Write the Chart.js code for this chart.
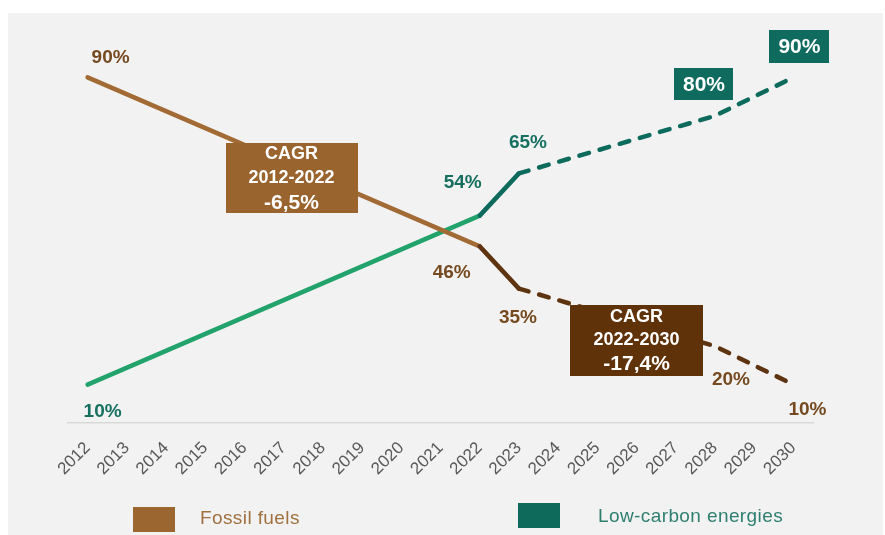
<!DOCTYPE html>
<html>
<head>
<meta charset="utf-8">
<script src="https://cdn.jsdelivr.net/npm/chart.js@4.4.1/dist/chart.umd.min.js"></script>
<style>
  html, body { margin: 0; padding: 0; background: #ffffff; }
  #wrap { position: relative; width: 885px; height: 535px; overflow: hidden; }
  #bg { position: absolute; left: 8px; top: 13px; width: 875px; height: 522px; background: #f2f2f2; }
  #c { position: absolute; left: 0; top: 0; }
  .lg-box { position: absolute; width: 42px; height: 25px; }
  .lg-text { position: absolute; font-family: "Liberation Sans", Arial, sans-serif; font-size: 19px; letter-spacing: 0.4px; line-height: 22px; white-space: nowrap; }
</style>
</head>
<body>
<div id="wrap">
  <div id="bg"></div>
  <canvas id="c" width="885" height="535"></canvas>
  <div class="lg-box" style="left:133px;top:507px;background:#9c6630"></div>
  <div class="lg-text" style="left:200px;top:507px;color:#a0703f">Fossil fuels</div>
  <div class="lg-box" style="left:518px;top:503px;background:#0e6b5c"></div>
  <div class="lg-text" style="left:598px;top:505px;color:#2e7f70">Low-carbon energies</div>
</div>
<script>
// ---- data ----
const years = ['2012','2013','2014','2015','2016','2017','2018','2019','2020','2021',
               '2022','2023','2024','2025','2026','2027','2028','2029','2030'];
const fossilFuels = [90, null, null, null, null, null, null, null, null, null,
                     46, 35, null, null, null, null, 20, null, 10];
const lowCarbon   = [10, null, null, null, null, null, null, null, null, null,
                     54, 65, null, null, null, null, 80, null, 90];
const seriesNames = ['Fossil fuels', 'Low-carbon energies'];
const cagrFossilHistoric = ['CAGR', '2012-2022', '-6,5%'];
const cagrFossilForecast = ['CAGR', '2022-2030', '-17,4%'];

// ---- styles ----
const C = {
  fossilLight: '#a26b35', fossilDark: '#5e3410',
  lowGreen: '#22a36c', lowTeal: '#0d6b5d',
  fossilText: '#754a20', lowText: '#15705f',
  box1: '#9a642e', box2: '#603209', tealBox: '#0f6b5e'
};
const LASTACTUAL = 10; // index of 2022
const FIRSTFORECAST = 11; // index of 2023

const fmt = v => v + '%';

// label placements (offsets from the data point, in px)
const pointLabels = [
  { ds: 0, i: 0,  dx: 23,  dy: -21, color: C.fossilText },
  { ds: 1, i: 0,  dx: 15,  dy: 26,  color: C.lowText },
  { ds: 1, i: 10, dx: -17, dy: -34, color: C.lowText },
  { ds: 0, i: 10, dx: -28, dy: 25,  color: C.fossilText },
  { ds: 1, i: 11, dx: 9,   dy: -32, color: C.lowText },
  { ds: 0, i: 11, dx: -1,  dy: 28,  color: C.fossilText },
  { ds: 0, i: 16, dx: 16,  dy: 33,  color: C.fossilText },
  { ds: 0, i: 18, dx: 14,  dy: 24,  color: C.fossilText },
  { ds: 1, i: 16, dx: -11, dy: -32, color: '#ffffff', box: C.tealBox, w: 59, h: 32, size: 21 },
  { ds: 1, i: 18, dx: 6,   dy: -31, color: '#ffffff', box: C.tealBox, w: 60, h: 33, size: 21 }
];
const cagrBoxes = [
  { lines: cagrFossilHistoric, xIdx: 5.2, yVal: 63.8, w: 132, h: 70, fill: C.box1, gap: 24 },
  { lines: cagrFossilForecast, xIdx: 14.0, yVal: 21.5, w: 133, h: 71, fill: C.box2, gap: 23 }
];

const FONT = '"Liberation Sans", Arial, sans-serif';

const annotatePlugin = {
  id: 'annotate',
  afterDatasetsDraw(chart) {
    const ctx = chart.ctx;
    const xs = chart.scales.x, ys = chart.scales.y;
    ctx.save();
    ctx.textAlign = 'center';
    ctx.textBaseline = 'middle';
    // CAGR boxes
    cagrBoxes.forEach(b => {
      const cx = xs.getPixelForValue(b.xIdx);
      const cy = ys.getPixelForValue(b.yVal);
      ctx.fillStyle = b.fill;
      ctx.fillRect(Math.round(cx - b.w / 2), Math.round(cy - b.h / 2), b.w, b.h);
      ctx.fillStyle = '#ffffff';
      b.lines.forEach((t, k) => {
        const size = k === 2 ? 21 : 18;
        ctx.font = 'bold ' + size + 'px ' + FONT;
        ctx.fillText(t, cx, cy + (k - 1) * b.gap + (k === 2 ? 1 : 0));
      });
    });
    // value labels
    pointLabels.forEach(l => {
      const meta = chart.getDatasetMeta(l.ds);
      const pt = meta.data[l.i];
      const v = chart.data.datasets[l.ds].data[l.i];
      const px = pt.x + l.dx, py = pt.y + l.dy;
      if (l.box) {
        ctx.fillStyle = l.box;
        ctx.fillRect(Math.round(px - l.w / 2), Math.round(py - l.h / 2), l.w, l.h);
      }
      ctx.fillStyle = l.color;
      ctx.font = 'bold ' + (l.size || 19) + 'px ' + FONT;
      ctx.fillText(fmt(v), px, py + 1);
    });
    ctx.restore();
  }
};

const segColor = (light, dark) => c => (c.p0DataIndex >= LASTACTUAL ? dark : light);
const segDash = c => (c.p0DataIndex >= FIRSTFORECAST ? [10, 11] : undefined);

new Chart(document.getElementById('c'), {
  type: 'line',
  data: {
    labels: years,
    datasets: [
      {
        label: seriesNames[0], data: fossilFuels, spanGaps: true,
        borderColor: C.fossilLight, borderWidth: 4.5, pointRadius: 0, pointHoverRadius: 0,
        borderCapStyle: 'round', borderJoinStyle: 'round', tension: 0,
        segment: { borderColor: segColor(C.fossilLight, C.fossilDark), borderDash: segDash }
      },
      {
        label: seriesNames[1], data: lowCarbon, spanGaps: true,
        borderColor: C.lowGreen, borderWidth: 4.5, pointRadius: 0, pointHoverRadius: 0,
        borderCapStyle: 'round', borderJoinStyle: 'round', tension: 0,
        segment: { borderColor: segColor(C.lowGreen, C.lowTeal), borderDash: segDash }
      }
    ]
  },
  options: {
    responsive: false,
    animation: false,
    events: [],
    layout: { padding: { left: 68, right: 72, top: 39, bottom: 0 } },
    plugins: { legend: { display: false }, tooltip: { enabled: false } },
    scales: {
      x: {
        type: 'category',
        offset: true,
        grid: { display: false, drawTicks: false },
        border: { display: true, color: '#d9d9d9', width: 1.5 },
        ticks: {
          color: '#595959', minRotation: 45, maxRotation: 45, autoSkip: false, padding: 15,
          font: { family: FONT, size: 17 }
        },
        afterFit(scale) { scale.height = 112; }
      },
      y: { display: false, min: 0, max: 100 }
    }
  },
  plugins: [annotatePlugin]
});
</script>
</body>
</html>
